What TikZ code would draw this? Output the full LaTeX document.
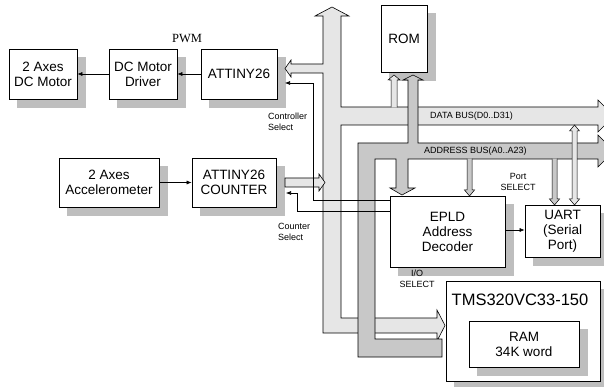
\documentclass[tikz,border=0pt]{standalone}
\usepackage{fontspec}
\setmainfont{Liberation Sans}
\newfontfamily\seriffont{Liberation Serif}
\usetikzlibrary{arrows.meta}
\definecolor{databus}{HTML}{E6E6E6}
\definecolor{addrbus}{HTML}{C8C8C8}
\definecolor{boxshade}{HTML}{BEBEBE}
\begin{document}
\begin{tikzpicture}[x=1pt,y=-1pt,
  box/.style={draw, fill=white, line width=0.7pt, inner sep=0pt, align=center,
    font=\fontsize{13.5}{15}\selectfont},
  shade box/.style={draw=boxshade, line width=0.4pt, fill=boxshade},
  lbl/.style={inner sep=0pt, font=\fontsize{9}{11}\selectfont},
  arr/.style={line width=0.6pt, -{Latex[length=5pt,width=4pt]}},
  dbus/.style={fill=databus, draw, line width=0.6pt},
  abus/.style={fill=addrbus, draw, line width=0.6pt},
  thin/.style={line width=0.5pt}
]
\path[use as bounding box] (0,0) rectangle (604,387);

% shadows
\draw[shade box] (17,57) -- (85,57) -- (85,107) -- (17,107) -- cycle;
\draw[shade box] (117,57) -- (185,57) -- (185,107) -- (117,107) -- cycle;
\draw[shade box] (209,57) -- (285,57) -- (285,107) -- (209,107) -- cycle;
\draw[shade box] (389,13) -- (435,13) -- (435,80) -- (389,80) -- cycle;
\draw[shade box] (67,166) -- (167,166) -- (167,215) -- (67,215) -- cycle;
\draw[shade box] (200,166) -- (284,166) -- (284,215) -- (200,215) -- cycle;
\draw[shade box] (398,204) -- (513,204) -- (513,275) -- (398,275) -- cycle;
\draw[shade box] (533,213) -- (608,213) -- (608,265) -- (533,265) -- cycle;
\draw[shade box] (454,289) -- (608,289) -- (608,389) -- (454,389) -- cycle;

% boxes
\node[box, minimum width=68pt, minimum height=50pt] (motor) at (43,74) {2 Axes\\DC Motor};
\node[box, minimum width=68pt, minimum height=50pt] (drv) at (143,74) {DC Motor\\Driver};
\node[box, minimum width=76pt, minimum height=50pt] (att) at (239,74) {ATTINY26};
\node[box, minimum width=46pt, minimum height=67pt] (rom) at (404,38.5) {ROM};
\node[box, minimum width=100pt, minimum height=49pt] (acc) at (109,182.5) {2 Axes\\Accelerometer};
\node[box, minimum width=84pt, minimum height=49pt] (cnt) at (234,182.5) {ATTINY26\\COUNTER};
\node[box, minimum width=115pt, minimum height=71pt] (epld) at (447.5,231.5) {EPLD\\Address\\Decoder};
\node[box, minimum width=75pt, minimum height=52pt] (uart) at (562.5,231) {UART\\(Serial\\Port)};
\node[box, minimum width=154pt, minimum height=100pt] (tms) at (523,331) {};
\draw[shade box] (477,329) -- (587,329) -- (587,375) -- (477,375) -- cycle;
\node[box, minimum width=110pt, minimum height=46pt] (ram) at (524,344) {RAM\\34K word};
\node[inner sep=0pt, font=\fontsize{16.5}{18}\selectfont] (tmstitle) at (520,300) {TMS320VC33-150};

% data bus
\draw[dbus] (332,7) -- (349,16) -- (341,16) -- (341,107) -- (598,107) -- (598,100)
  -- (614,116) -- (598,132) -- (598,125) -- (341,125) -- (341,318) -- (437,318)
  -- (437,310) -- (445,325.5) -- (437,341) -- (437,333) -- (323,333) -- (323,73)
  -- (291,73) -- (291,77) -- (285,68.5) -- (291,60) -- (291,64) -- (323,64)
  -- (323,16) -- (315,16) -- cycle;
% counter output
\draw[dbus] (285,178) -- (319,178) -- (319,174) -- (325,182.5) -- (319,191) -- (319,187) -- (285,187) -- cycle;
% ROM data link
\draw[dbus, thin] (391,107.3) -- (391,80) -- (388,80) -- (394,75) -- (400,80) -- (397,80) -- (397,107.3);

% address bus
\draw[abus] (358,143) -- (408,143) -- (408,80) -- (403,80) -- (413,75) -- (423,80)
  -- (418,80) -- (418,143) -- (598,143) -- (598,135) -- (614,151) -- (598,167)
  -- (598,159) -- (408,159) -- (408,188) -- (415,188) -- (402,195) -- (390,188)
  -- (396,188) -- (396,159) -- (375,159) -- (375,339) -- (442,339) -- (442,357)
  -- (358,357) -- cycle;
% thin address links
\draw[abus, thin] (467,158.7) -- (467,190) -- (464.5,190) -- (469.5,196) -- (474.5,190) -- (472,190) -- (472,158.7);
\draw[abus, thin] (552,158.7) -- (552,199) -- (549.5,199) -- (554.5,205) -- (559.5,199) -- (557,199) -- (557,158.7);
% UART data link (double headed)
\draw[dbus, thin] (572,131) -- (569.5,131) -- (574.5,125) -- (579.5,131) -- (577,131)
  -- (577,199) -- (579.5,199) -- (574.5,205) -- (569.5,199) -- (572,199) -- cycle;

% signal connectors
\draw[arr] (att.west) -- (drv.east);
\draw[arr] (drv.west) -- (motor.east);
\draw[arr] (acc.east) -- (cnt.west);
\draw[arr] (epld.east |- 0,230) -- (uart.west |- 0,230);
\draw[arr] (epld.west |- 0,200) -- (313,200) -- (313,83) -- (285,83);
\draw[arr] (epld.west |- 0,211) -- (297,211) -- (297,193) -- (286,193);

% labels
\node[inner sep=0pt, font=\seriffont\fontsize{12.5}{14}\selectfont] (pwm) at (187,39) {PWM};
\node[lbl, anchor=west, align=left] (csel) at (268,122) {Controller\\Select};
\node[lbl, anchor=west, align=left] (cntsel) at (278,231.5) {Counter\\Select};
\node[lbl, anchor=west] (dlabel) at (430,116) {DATA BUS(D0..D31)};
\node[lbl, anchor=west] (alabel) at (424,151) {ADDRESS BUS(A0..A23)};
\node[lbl, align=center] (psel) at (518,181.5) {Port\\SELECT};
\node[lbl, align=center] (iosel) at (417,278.5) {I/O\\SELECT};
\end{tikzpicture}
\end{document}
